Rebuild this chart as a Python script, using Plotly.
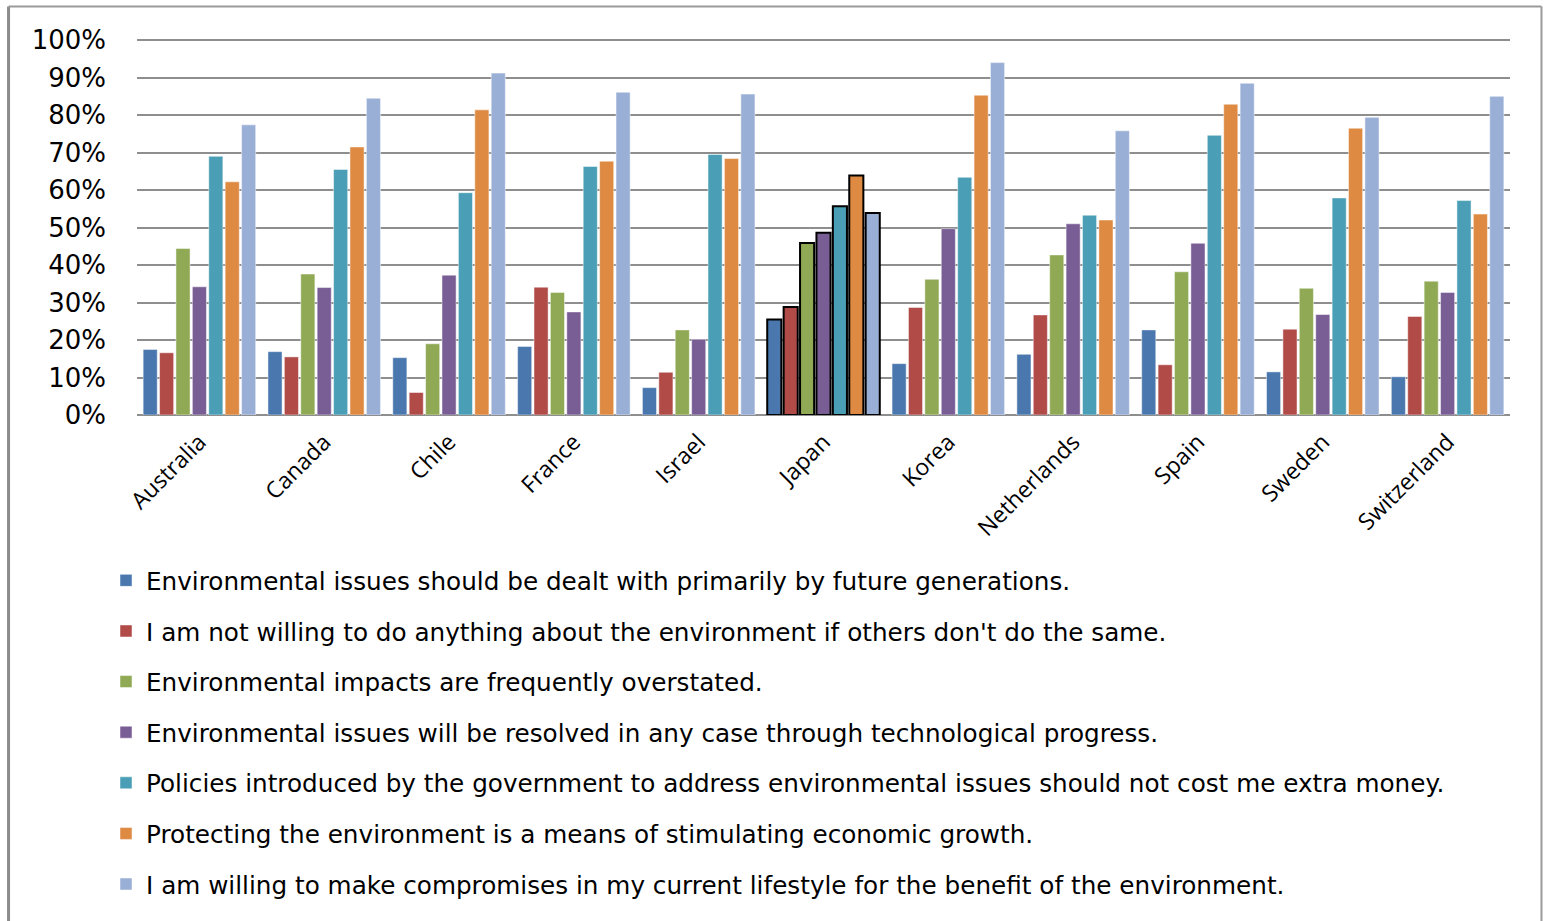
import plotly.graph_objects as go

countries = ["Australia", "Canada", "Chile", "France", "Israel", "Japan",
             "Korea", "Netherlands", "Spain", "Sweden", "Switzerland"]

statements = [
    "Environmental issues should be dealt with primarily by future generations.",
    "I am not willing to do anything about the environment if others don't do the same.",
    "Environmental impacts are frequently overstated.",
    "Environmental issues will be resolved in any case through technological progress.",
    "Policies introduced by the government to address environmental issues should not cost me extra money.",
    "Protecting the environment is a means of stimulating economic growth.",
    "I am willing to make compromises in my current lifestyle for the benefit of the environment.",
]

# Share of respondents agreeing (%), one list per statement, in country order
future_generations = [17.5, 16.9, 15.3, 18.3, 7.3, 25.5, 13.7, 16.2, 22.7, 11.5, 10.2]
not_if_others_dont = [16.6, 15.5, 6.0, 34.1, 11.4, 28.8, 28.7, 26.7, 13.4, 22.9, 26.3]
impacts_overstated = [44.4, 37.6, 19.0, 32.7, 22.7, 45.9, 36.2, 42.7, 38.2, 33.8, 35.7]
technological_fix = [34.2, 34.0, 37.3, 27.5, 20.2, 48.6, 49.7, 51.0, 45.8, 26.8, 32.7]
no_extra_cost = [69.0, 65.5, 59.3, 66.3, 69.5, 55.7, 63.4, 53.3, 74.6, 57.9, 57.2]
economic_growth = [62.2, 71.5, 81.4, 67.7, 68.4, 63.9, 85.3, 52.0, 82.9, 76.5, 53.6]
lifestyle_compromise = [77.4, 84.5, 91.2, 86.1, 85.6, 53.9, 94.0, 75.8, 88.5, 79.4, 85.0]

series = [future_generations, not_if_others_dont, impacts_overstated, technological_fix,
          no_extra_cost, economic_growth, lifestyle_compromise]

colors = ["#4A78AE", "#B04B48", "#8FA954", "#785E95", "#4A9EB5", "#DE8A43", "#9AAFD5"]

highlight = "Japan"

W, H = 1546, 921
L, R, T, B = 137, 1510.5, 39, 415.5
pw, ph = R - L, B - T


def px(x):
    return (x - L) / pw


def py(y):
    return (B - y) / ph


fig = go.Figure()
for i, (name, vals, col) in enumerate(zip(statements, series, colors)):
    fig.add_trace(go.Bar(
        x=countries,
        y=[v / 100 for v in vals],
        name=name,
        legendgroup=f"g{i}",
        marker=dict(
            color=col,
            line=dict(
                color=["#000000" if c == highlight else "rgba(255,255,255,0.6)" for c in countries],
                width=[2 if c == highlight else 0.8 for c in countries],
            ),
        ),
    ))

frame = "#9a9a9a"
shapes = [
    dict(type="line", xref="paper", yref="paper", x0=px(8.5), x1=px(8.5), y0=py(6.5), y1=py(925),
         line=dict(color="#8c8c8c", width=3)),
    dict(type="line", xref="paper", yref="paper", x0=px(8.5), x1=px(1542), y0=py(6.5), y1=py(6.5),
         line=dict(color=frame, width=2)),
    dict(type="line", xref="paper", yref="paper", x0=px(1542), x1=px(1542), y0=py(6.5), y1=py(925),
         line=dict(color=frame, width=2)),
]

fig.update_layout(
    width=W, height=H,
    margin=dict(l=L, r=W - R, t=T, b=H - B, pad=0),
    paper_bgcolor="white", plot_bgcolor="white",
    barmode="group", bargap=0.08, bargroupgap=0.14,
    font=dict(family="DejaVu Sans", color="#000000"),
    showlegend=True,
    legend=dict(
        orientation="v", x=px(106), xanchor="left", y=py(558.5), yanchor="top",
        font=dict(family="DejaVu Sans", size=24.7, color="#000000"),
        tracegroupgap=15.5, traceorder="grouped", bgcolor="rgba(0,0,0,0)",
    ),
    shapes=shapes,
    xaxis=dict(
        tickangle=-45, showgrid=False, showline=False, ticks="", ticklabelstandoff=8,
        tickfont=dict(family="Open Sans", size=23, color="#000000"),
    ),
    yaxis=dict(
        range=[0, 1.003], tickformat=".0%", dtick=0.1, showgrid=True,
        gridcolor="#8e8e8e", gridwidth=1.5, zeroline=True, zerolinecolor="#8e8e8e",
        zerolinewidth=1.5, showline=False, ticks="", ticklabelstandoff=30,
        tickfont=dict(family="DejaVu Sans", size=26, color="#000000"),
    ),
)

fig.write_html("out.html")
